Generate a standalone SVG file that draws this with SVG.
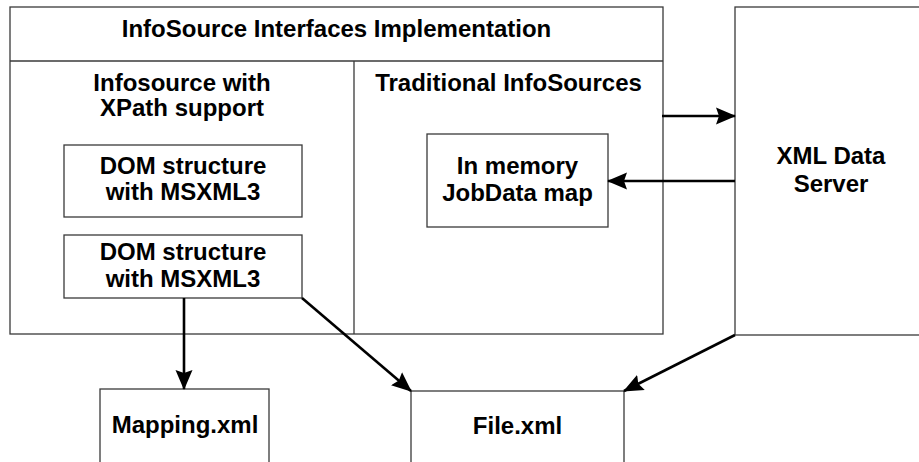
<svg xmlns="http://www.w3.org/2000/svg" width="919" height="462" viewBox="0 0 919 462">
<style>
.box{fill:#fff;stroke:#3a3a3a;stroke-width:1.3}
.ln{fill:none;stroke:#3a3a3a;stroke-width:1.3}
.t{font-family:"Liberation Sans",Arial,sans-serif;font-weight:bold;font-size:24px;fill:#000;text-anchor:middle}
.c{fill:none;stroke:#000;stroke-width:2.6}
</style>
<defs>
<marker id="ah" markerUnits="userSpaceOnUse" markerWidth="20" markerHeight="18" viewBox="0 0 20 18" refX="19" refY="9" orient="auto">
<path d="M0,0.5 L20,9 L0,17.5 L3,9 Z" fill="#000"/>
</marker>
</defs>
<rect width="919" height="462" fill="#fff"/>
<g id="impl">
<rect class="box" x="10" y="7" width="653" height="327"/>
<line class="ln" x1="10" y1="61" x2="663" y2="61"/>
<line class="ln" x1="354" y1="61" x2="354" y2="334"/>
<text class="t" x="336.5" y="37">InfoSource Interfaces Implementation</text>
</g>
<g id="xpath">
<text class="t" x="182" y="91">Infosource with</text>
<text class="t" x="182" y="116">XPath support</text>
</g>
<g id="traditional">
<text class="t" x="508.5" y="91">Traditional InfoSources</text>
</g>
<g id="dom1">
<rect class="box" x="64" y="145" width="238" height="72"/>
<text class="t" x="183" y="174">DOM structure</text>
<text class="t" x="183" y="200">with MSXML3</text>
</g>
<g id="dom2">
<rect class="box" x="64" y="235" width="238" height="63"/>
<text class="t" x="183" y="260">DOM structure</text>
<text class="t" x="183" y="287">with MSXML3</text>
</g>
<g id="memory">
<rect class="box" x="427" y="134" width="181" height="93"/>
<text class="t" x="517.5" y="174">In memory</text>
<text class="t" x="517.5" y="201">JobData map</text>
</g>
<g id="server">
<rect class="box" x="735" y="7" width="200" height="328"/>
<text class="t" x="831" y="164">XML Data</text>
<text class="t" x="831" y="192">Server</text>
</g>
<g id="mapping">
<rect class="box" x="100" y="389" width="169" height="80"/>
<text class="t" x="185" y="433">Mapping.xml</text>
</g>
<g id="file">
<rect class="box" x="411" y="391" width="213" height="80"/>
<text class="t" x="517.5" y="434">File.xml</text>
</g>
<g id="connectors">
<line class="c" x1="662" y1="116" x2="735" y2="116" marker-end="url(#ah)"/>
<line class="c" x1="735" y1="181" x2="608" y2="181" marker-end="url(#ah)"/>
<line class="c" x1="184" y1="298" x2="184" y2="389" marker-end="url(#ah)"/>
<line class="c" x1="302" y1="298" x2="411" y2="391" marker-end="url(#ah)"/>
<line class="c" x1="735" y1="335" x2="624" y2="391" marker-end="url(#ah)"/>
</g>
</svg>
